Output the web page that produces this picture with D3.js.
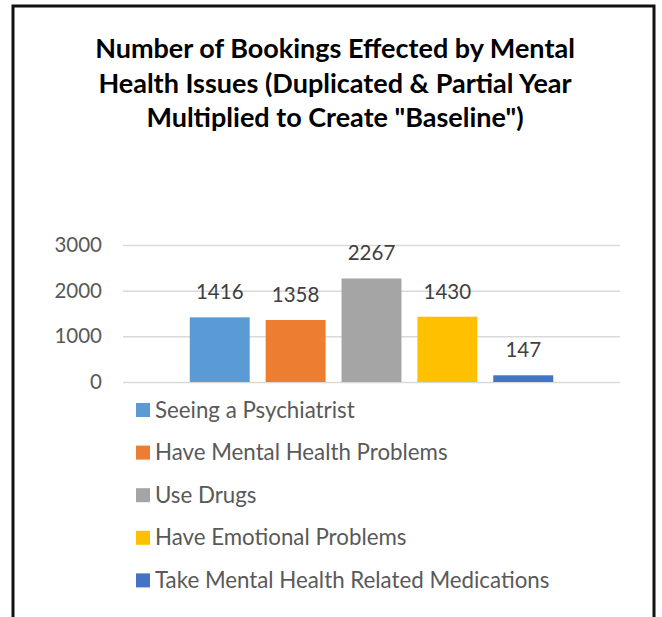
<!DOCTYPE html>
<html>
<head>
<meta charset="utf-8">
<script src="https://cdn.jsdelivr.net/npm/d3@7"></script>
<style>
  body { margin: 0; background: #fff; }
  svg { display: block; }
</style>
</head>
<body>
<div id="chart"></div>
<script>
// Chart data
const titleLines = ["Number of Bookings Effected by Mental", "Health Issues (Duplicated & Partial Year", "Multiplied to Create \"Baseline\")"];
const category = ["Baseline"];
const seriesNames = ["Seeing a Psychiatrist", "Have Mental Health Problems", "Use Drugs", "Have Emotional Problems", "Take Mental Health Related Medications"];
const seriesValues = [1416, 1358, 2267, 1430, 147];
const seriesColors = ["#5b9bd5", "#ed7d31", "#a5a5a5", "#ffc000", "#4472c4"];
const yTicks = [0, 1000, 2000, 3000];

const W = 662, H = 617;
const font = "Lato, 'Open Sans', sans-serif";

const svg = d3.select("#chart")
    .append("svg")
    .attr("width", W)
    .attr("height", H);

svg.append("rect").attr("width", W).attr("height", H).attr("fill", "#fff");

// Frame
svg.append("path")
    .attr("d", `M13,${H + 5} L13,6 L654,6 L654,${H + 5}`)
    .attr("fill", "none")
    .attr("stroke", "#111")
    .attr("stroke-width", 3);

// Title
svg.append("g")
    .selectAll("text")
    .data(titleLines)
    .enter()
    .append("text")
    .attr("x", 335)
    .attr("y", (d, i) => 58 + i * 34.5)
    .attr("text-anchor", "middle")
    .attr("font-family", font)
    .attr("font-weight", "bold")
    .attr("font-size", 27)
    .attr("fill", "#000")
    .text(d => d);

// Scales
const plot = {left: 123, right: 620, top: 245, bottom: 382};

const x0 = d3.scaleBand()
    .domain(category)
    .range([plot.left, plot.right])
    .paddingInner(0)
    .paddingOuter(0.155);

const x1 = d3.scaleBand()
    .domain(seriesNames)
    .range([0, x0.bandwidth()])
    .paddingInner(0.21)
    .paddingOuter(0.105);

const y = d3.scaleLinear()
    .domain([0, 3000])
    .range([plot.bottom, plot.top]);

// Gridlines + y labels
const yAxis = svg.append("g")
    .attr("transform", `translate(${plot.left},0)`)
    .call(d3.axisLeft(y).tickValues(yTicks).tickSize(-(plot.right - plot.left)).tickPadding(21).tickFormat(d3.format("d")));

yAxis.select(".domain").remove();
yAxis.selectAll(".tick line")
    .attr("stroke", "#d9d9d9")
    .attr("stroke-width", 1.5);
yAxis.selectAll(".tick text")
    .attr("font-family", font)
    .attr("font-size", 20.5)
    .attr("fill", "#595959");

// Bars
const data = seriesNames.map((name, i) => ({name, value: seriesValues[i], color: seriesColors[i]}));

const g = svg.append("g").attr("transform", `translate(${x0(category[0])},0)`);

g.selectAll("rect")
    .data(data)
    .enter()
    .append("rect")
    .attr("x", d => x1(d.name))
    .attr("y", d => y(d.value))
    .attr("width", x1.bandwidth())
    .attr("height", d => y(0) - y(d.value))
    .attr("fill", d => d.color);

// Value labels
g.selectAll("text.val")
    .data(data)
    .enter()
    .append("text")
    .attr("class", "val")
    .attr("x", d => x1(d.name) + x1.bandwidth() / 2)
    .attr("y", d => y(d.value) - 18)
    .attr("text-anchor", "middle")
    .attr("font-family", font)
    .attr("font-size", 20.5)
    .attr("fill", "#404040")
    .text(d => d.value);

// Legend
const legend = svg.append("g")
    .selectAll("g")
    .data(data)
    .enter()
    .append("g")
    .attr("transform", (d, i) => `translate(136,${410 + i * 42.6})`);

legend.append("rect")
    .attr("x", 0)
    .attr("y", -7)
    .attr("width", 14)
    .attr("height", 14)
    .attr("fill", d => d.color);

legend.append("text")
    .attr("x", 19)
    .attr("y", 7.5)
    .attr("font-family", font)
    .attr("font-size", 22.3)
    .attr("fill", "#595959")
    .text(d => d.name);
</script>
</body>
</html>
